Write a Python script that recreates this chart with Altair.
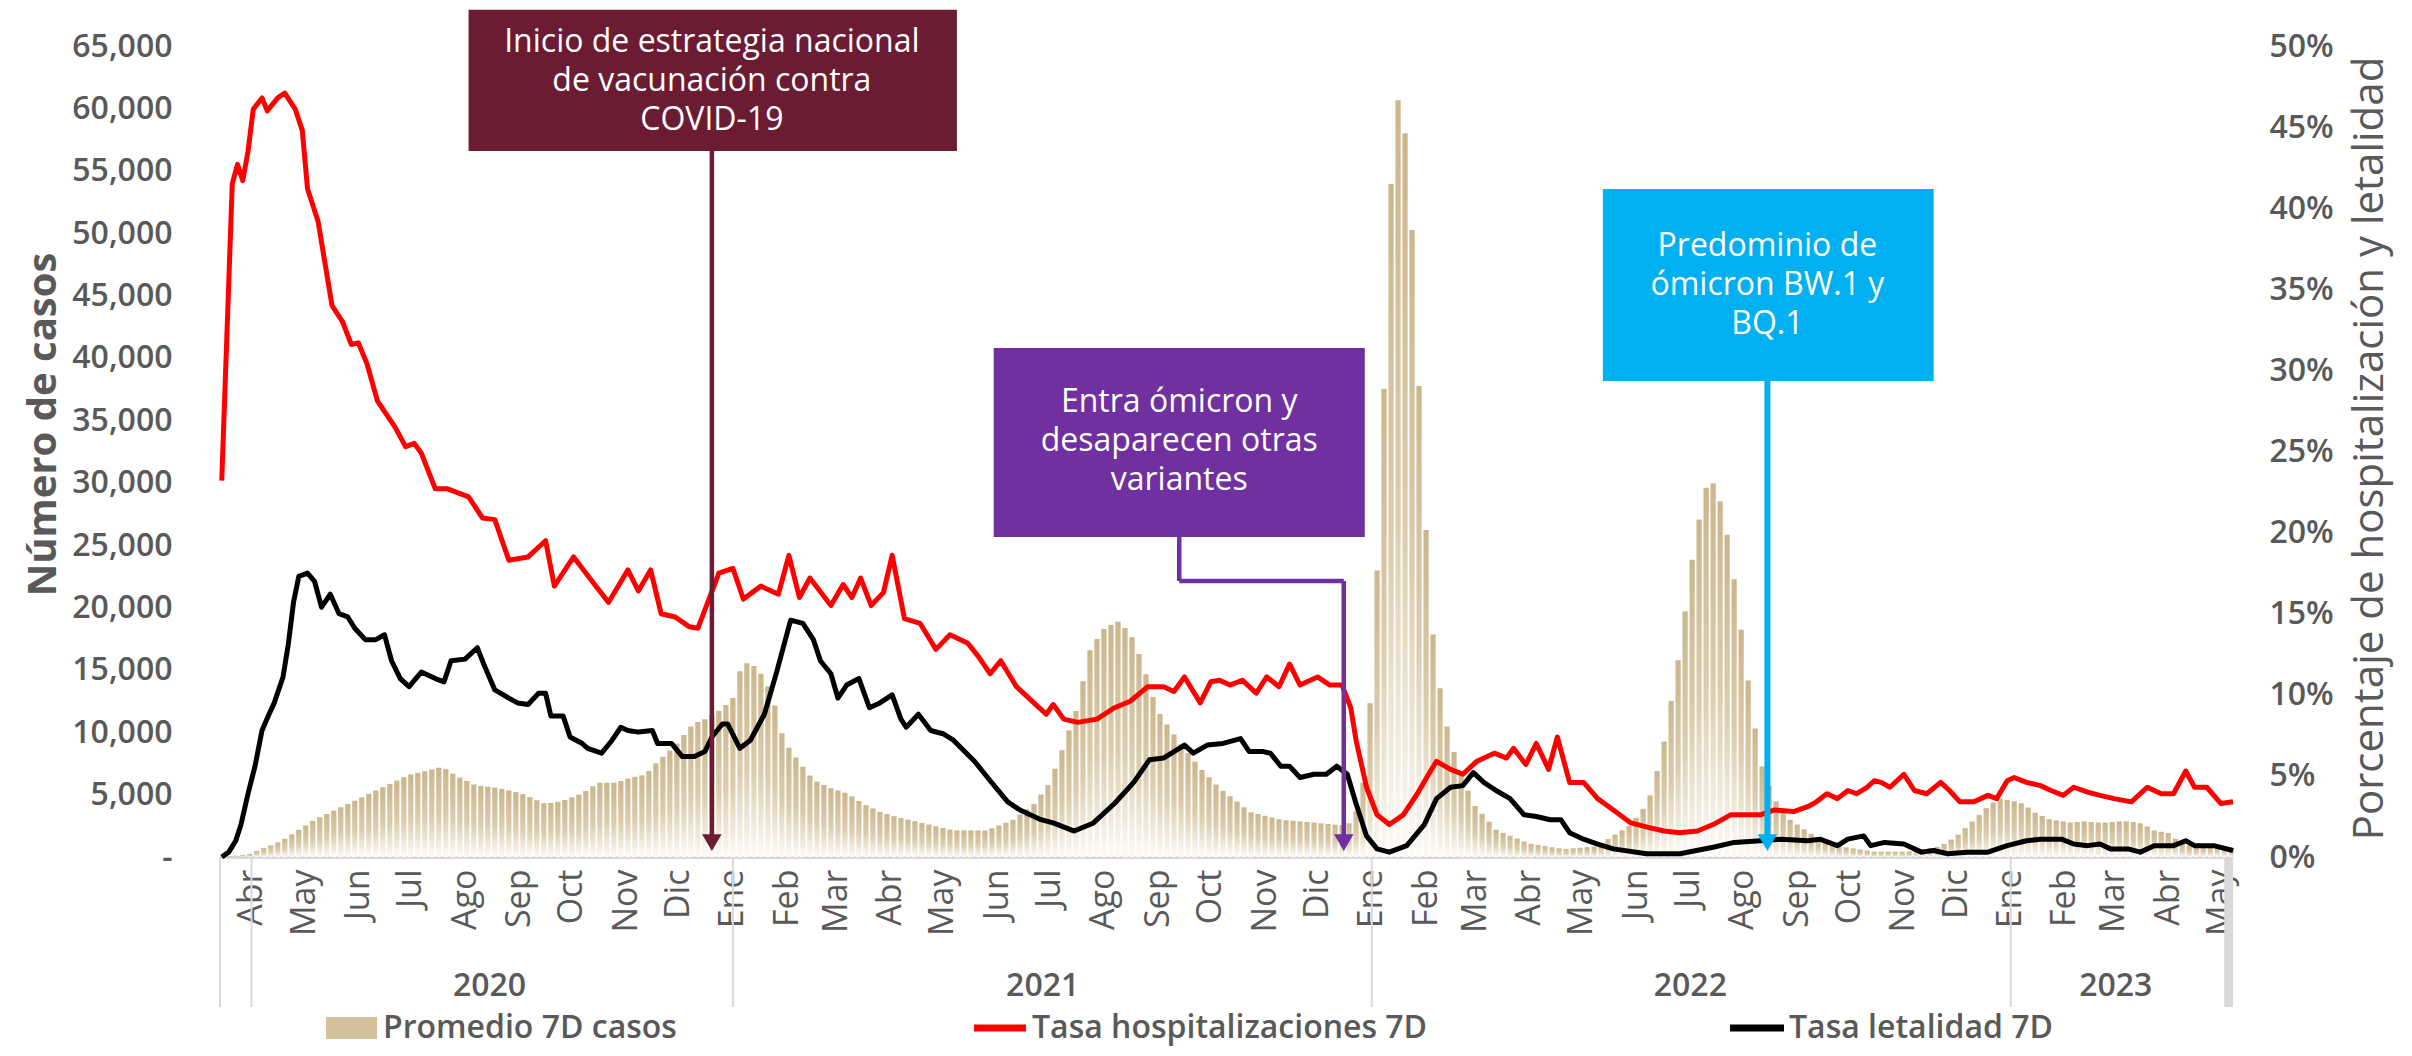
import altair as alt
import pandas as pd

# ---------------- data ----------------
INICIO = "2020-03-14"          # day 0 of the day offsets used below
FIN_DIA = 1150                 # 2023-05-08
MESES = ["Ene", "Feb", "Mar", "Abr", "May", "Jun", "Jul", "Ago", "Sep", "Oct", "Nov", "Dic"]

# 7-day average of cases read every 4 days (day offsets 1, 5, 9, ... from INICIO)
casos_dia = list(range(1, 1150, 4))
casos = [
    0, 50, 105, 160, 257, 484, 711, 938, 1166, 1459,
    1817, 2175, 2533, 2890, 3180, 3448, 3715, 3982, 4250, 4519,
    4788, 5058, 5328, 5596, 5861, 6126, 6391, 6620, 6740, 6870,
    7015, 7160, 7040, 6680, 6370, 6090, 5810, 5690, 5630, 5560,
    5460, 5330, 5200, 5040, 4800, 4550, 4310, 4330, 4420, 4575,
    4785, 4995, 5290, 5670, 5950, 5950, 5950, 6090, 6280, 6430,
    6540, 6890, 7500, 8030, 8540, 9100, 9780, 10460, 10820, 11050,
    11390, 11730, 12180, 12750, 14880, 15520, 15300, 14680, 13680, 12150,
    9920, 8760, 7970, 7240, 6530, 6040, 5770, 5510, 5330, 5150,
    4860, 4490, 4160, 3890, 3610, 3440, 3270, 3120, 2990, 2860,
    2730, 2600, 2460, 2330, 2200, 2130, 2130, 2130, 2130, 2130,
    2300, 2530, 2750, 2980, 3400, 3830, 4250, 5010, 5760, 7070,
    8560, 10150, 11700, 14080, 16580, 17480, 18280, 18590, 18850, 18360,
    17620, 16280, 14650, 12820, 11460, 10620, 9820, 9070, 8320, 7650,
    6970, 6390, 5810, 5300, 4870, 4440, 3980, 3580, 3440, 3300,
    3160, 3020, 2950, 2900, 2850, 2800, 2760, 2700, 2650, 2590,
    2560, 2700, 3660, 5950, 12330, 22960, 37510, 53930, 60650, 58000,
    50260, 37740, 26210, 17830, 13530, 10460, 8420, 6750, 5320, 4090,
    3460, 2830, 2190, 1930, 1700, 1480, 1250, 1050, 960, 870,
    780, 700, 650, 700, 740, 790, 830, 1080, 1430, 1790,
    2140, 2500, 3140, 3860, 4940, 6890, 9250, 12510, 15770, 19690,
    23830, 27050, 29590, 29940, 28490, 25830, 22260, 18220, 14140, 10300,
    7260, 5700, 4450, 3730, 2980, 2600, 2220, 1840, 1560, 1340,
    1120, 890, 780, 690, 600, 510, 425, 425, 425, 425,
    425, 450, 540, 630, 720, 810, 1040, 1400, 1780, 2310,
    2840, 3360, 3910, 4370, 4680, 4570, 4465, 4310, 3960, 3540,
    3290, 3030, 2930, 2850, 2760, 2800, 2850, 2800, 2760, 2760,
    2800, 2850, 2850, 2800, 2700, 2440, 2120, 2020, 1920, 1480,
    1020, 920, 850, 850, 850, 850, 850, 700,
]

# (day offset, %) readings
hospitalizacion = [
    (1, 23.2), (7, 41.5), (10, 42.7), (13, 41.7), (16, 43.5), (19, 46.1), (24, 46.8), (27, 46.0),
    (33, 46.8), (37, 47.1), (43, 46.1), (47, 44.8), (50, 41.2), (56, 39.2), (60, 36.6), (64, 34.0),
    (70, 33.0), (75, 31.6), (79, 31.7), (84, 30.4), (90, 28.1), (100, 26.5), (106, 25.3), (111, 25.5),
    (115, 24.9), (123, 22.7), (130, 22.7), (142, 22.2), (150, 20.9), (157, 20.8), (165, 18.3), (176, 18.5),
    (186, 19.5), (191, 16.7), (202, 18.5), (214, 16.8), (222, 15.7), (233, 17.7), (239, 16.4), (246, 17.7),
    (252, 15.0), (260, 14.8), (268, 14.2), (273, 14.1), (285, 17.5), (293, 17.8), (299, 15.9), (309, 16.7),
    (319, 16.2), (325, 18.6), (331, 16.0), (337, 17.2), (349, 15.5), (356, 16.8), (361, 16.0), (366, 17.2),
    (372, 15.5), (379, 16.3), (384, 18.6), (391, 14.7), (400, 14.4), (409, 12.8), (417, 13.7), (427, 13.2),
    (433, 12.4), (440, 11.3), (446, 12.1), (455, 10.5), (465, 9.5), (472, 8.8), (476, 9.4), (482, 8.5),
    (490, 8.3), (501, 8.5), (511, 9.2), (520, 9.6), (530, 10.5), (539, 10.5), (545, 10.2), (551, 11.1),
    (560, 9.5), (566, 10.8), (571, 10.9), (577, 10.6), (584, 10.9), (592, 10.1), (598, 11.1), (605, 10.5),
    (611, 11.9), (617, 10.6), (627, 11.1), (634, 10.6), (641, 10.6), (646, 9.2), (649, 7.2), (655, 4.3),
    (661, 2.6), (668, 2.0), (676, 2.6), (684, 3.9), (691, 5.2), (695, 5.9), (703, 5.4), (710, 5.1),
    (718, 5.9), (728, 6.4), (735, 6.1), (739, 6.7), (746, 5.7), (752, 7.0), (759, 5.4), (764, 7.4),
    (771, 4.6), (779, 4.6), (787, 3.6), (796, 2.9), (806, 2.1), (817, 1.8), (825, 1.6), (834, 1.5),
    (844, 1.6), (853, 2.0), (863, 2.6), (869, 2.6), (880, 2.6), (888, 2.9), (899, 2.8), (907, 3.1),
    (912, 3.4), (918, 3.9), (924, 3.6), (930, 4.1), (935, 3.9), (941, 4.3), (945, 4.7), (949, 4.6),
    (954, 4.3), (962, 5.1), (968, 4.1), (975, 3.9), (983, 4.6), (988, 4.1), (994, 3.4), (1002, 3.4),
    (1010, 3.8), (1015, 3.6), (1021, 4.7), (1025, 4.9), (1032, 4.6), (1040, 4.4), (1046, 4.1), (1053, 3.8),
    (1059, 4.3), (1067, 4.0), (1074, 3.8), (1082, 3.6), (1092, 3.4), (1101, 4.3), (1109, 3.9), (1116, 3.9),
    (1123, 5.3), (1128, 4.3), (1135, 4.3), (1143, 3.3), (1150, 3.4),
]

letalidad = [
    (1, 0.0), (5, 0.3), (9, 1.0), (12, 2.0), (16, 3.9), (20, 5.6), (24, 7.8), (28, 8.8),
    (31, 9.5), (36, 11.1), (39, 13.1), (42, 15.7), (45, 17.3), (50, 17.5), (54, 17.0), (58, 15.4),
    (63, 16.2), (68, 15.0), (73, 14.8), (77, 14.1), (83, 13.4), (89, 13.4), (94, 13.7), (98, 12.1),
    (103, 11.0), (108, 10.5), (115, 11.4), (123, 11.0), (128, 10.8), (132, 12.1), (140, 12.2), (147, 12.9),
    (151, 11.8), (157, 10.3), (165, 9.8), (170, 9.5), (176, 9.4), (182, 10.1), (186, 10.1), (189, 8.7),
    (196, 8.7), (200, 7.4), (207, 7.0), (210, 6.7), (218, 6.4), (224, 7.2), (229, 8.0), (233, 7.8),
    (239, 7.7), (247, 7.8), (250, 7.0), (258, 7.0), (264, 6.2), (271, 6.2), (277, 6.5), (281, 7.4),
    (287, 8.2), (290, 8.2), (297, 6.7), (303, 7.2), (311, 8.8), (318, 11.4), (326, 14.6), (333, 14.4),
    (339, 13.4), (343, 12.1), (349, 11.3), (353, 9.8), (358, 10.6), (365, 11.0), (371, 9.2), (377, 9.5),
    (384, 10.0), (389, 8.5), (392, 8.0), (399, 8.8), (406, 7.8), (413, 7.6), (419, 7.2), (431, 5.9),
    (440, 4.7), (450, 3.4), (457, 2.9), (469, 2.3), (476, 2.1), (488, 1.6), (499, 2.1), (511, 3.3),
    (522, 4.6), (531, 6.0), (539, 6.1), (551, 6.9), (556, 6.4), (564, 6.9), (573, 7.0), (583, 7.3),
    (588, 6.5), (596, 6.5), (600, 6.4), (606, 5.6), (611, 5.6), (617, 4.9), (625, 5.1), (632, 5.1),
    (638, 5.6), (644, 5.1), (649, 3.3), (655, 1.3), (661, 0.5), (668, 0.3), (678, 0.7), (688, 2.0),
    (695, 3.6), (703, 4.3), (710, 4.4), (716, 5.2), (722, 4.6), (729, 4.1), (737, 3.6), (745, 2.6),
    (752, 2.5), (760, 2.3), (766, 2.3), (771, 1.5), (779, 1.1), (787, 0.8), (796, 0.5), (815, 0.2),
    (834, 0.2), (853, 0.6), (865, 0.9), (880, 1.0), (892, 1.1), (907, 1.0), (914, 1.1), (924, 0.7),
    (930, 1.1), (939, 1.3), (943, 0.7), (951, 0.9), (962, 0.8), (972, 0.3), (979, 0.4), (987, 0.2),
    (998, 0.3), (1010, 0.3), (1021, 0.7), (1032, 1.0), (1040, 1.1), (1052, 1.1), (1059, 0.8), (1067, 0.7),
    (1074, 0.8), (1080, 0.5), (1090, 0.5), (1097, 0.3), (1105, 0.7), (1116, 0.7), (1123, 1.0), (1128, 0.7),
    (1139, 0.7), (1150, 0.4),
]

anios = ["2020", "2021", "2022", "2023"]
series = ["Promedio 7D casos", "Tasa hospitalizaciones 7D", "Tasa letalidad 7D"]
notas_texto = [
    ["Inicio de estrategia nacional", "de vacunación contra", "COVID-19"],
    ["Entra ómicron y", "desaparecen otras", "variantes"],
    ["Predominio de", "ómicron BW.1 y", "BQ.1"],
]

# ---------------- layout / style ----------------
W, H = 2013, 811
GRIS = "#595959"
LINEA = "#D9D9D9"
FONT = "Open Sans"
TAN = "#D4C19C"

anios_dia = [154, 470, 840, 1083]
cortes_dia = [0, 18, 293, 658, 1023]
gris_final = (1145, 1150)
notas_color = ["#6B1C33", "#7030A0", "#00B0F0"]
notas_caja = [(142, 421, 67900, 56590), (442, 654, 40800, 25650), (790, 979, 53540, 38150)]
notas_primera_linea = [(281, 65350), (548, 36450), (884, 49000)]   # anchor of first text line
flechas = [  # (day1, day2, y1, y2, colour index)
    (281, 281, 56590, 1400, 0),
    (548, 548, 25650, 22120, 1), (548, 642, 22120, 22120, 1), (642, 642, 22120, 1400, 1),
    (884, 884, 38150, 1400, 2),
]
puntas = [(281, 0), (642, 1), (884, 2)]
PUNTA_Y = 1150
MEDIA_BARRA = 1.5   # half width of each bar, in days


def fecha(d):
    return (pd.Timestamp(INICIO) + pd.Timedelta(days=d)).strftime("%Y-%m-%dT%H:%M:%SZ")


def ms(d):
    return int((pd.Timestamp(INICIO) + pd.Timedelta(days=d)).value // 10**6)


xscale = alt.Scale(type="utc", domain=[ms(0), ms(FIN_DIA)], nice=False)
yL = alt.Scale(domain=[0, 65000], nice=False, zero=True)
yR = alt.Scale(domain=[0, 50], nice=False, zero=True)

meses_ms = [int(t.value // 10**6) for t in pd.date_range("2020-04-01", "2023-05-01", freq="MS")]
meses_js = "[" + ",".join("'%s'" % m for m in MESES) + "]"

xaxis = alt.Axis(
    values=meses_ms, labelExpr=meses_js + "[utcmonth(datum.value)]",
    labelAngle=-90, labelAlign="right", labelBaseline="middle", labelPadding=12,
    labelFont=FONT, labelFontSize=34, labelFontWeight=500, labelColor=GRIS,
    labelOverlap=False, labelFlush=False, ticks=False, grid=False,
    domainColor=LINEA, domainWidth=3, title=None,
)
yLaxis = alt.Axis(
    values=list(range(0, 65001, 5000)),
    labelExpr="datum.value == 0 ? '-' : format(datum.value, ',')",
    labelFont=FONT, labelFontSize=32, labelFontWeight=600, labelColor=GRIS, labelPadding=48,
    ticks=False, domain=False, grid=False,
    title="Número de casos", titleFont=FONT, titleFontSize=40, titleFontWeight="bold",
    titleColor=GRIS, titleAngle=-90, titleX=-177, titleY=378, titleAlign="center", titleBaseline="middle",
)
yRaxis = alt.Axis(
    orient="right", values=list(range(0, 51, 5)), labelExpr="datum.value + '%'",
    labelFont=FONT, labelFontSize=32, labelFontWeight=600, labelColor=GRIS, labelPadding=36,
    ticks=False, domain=False, grid=False,
    title="Porcentaje de hospitalización y letalidad", titleFont=FONT, titleFontSize=42,
    titleFontWeight="normal", titleColor=GRIS, titleAngle=-90, titleX=136, titleY=402,
    titleAlign="center", titleBaseline="middle",
)

# ---------------- frames ----------------
df_casos = pd.DataFrame({
    "ini": [fecha(d - MEDIA_BARRA) for d in casos_dia],
    "fin": [fecha(d + MEDIA_BARRA) for d in casos_dia],
    "casos": casos,
})
df_h = pd.DataFrame({"fecha": [fecha(d) for d, _ in hospitalizacion], "pct": [v for _, v in hospitalizacion]})
df_l = pd.DataFrame({"fecha": [fecha(d) for d, _ in letalidad], "pct": [v for _, v in letalidad]})

gradiente = {
    "gradient": "linear", "x1": 0, "x2": 0, "y1": 0, "y2": 1,
    "stops": [
        {"offset": 0, "color": "#CBB68C"},
        {"offset": 0.55, "color": "#DCCDAE"},
        {"offset": 1, "color": "#FDFBF7"},
    ],
}

barras = alt.Chart(df_casos).mark_bar(color=gradiente).encode(
    x=alt.X("ini:T", scale=xscale, axis=xaxis, title=None),
    x2="fin:T",
    y=alt.Y("casos:Q", scale=yL, axis=yLaxis),
    y2=alt.datum(0),
)

rojo = alt.Chart(df_h).mark_line(color="#FF0000", strokeWidth=5, strokeJoin="round").encode(
    x=alt.X("fecha:T", scale=xscale, title=None),
    y=alt.Y("pct:Q", scale=yR, axis=yRaxis),
)
negro = alt.Chart(df_l).mark_line(color="#000000", strokeWidth=5, strokeJoin="round").encode(
    x=alt.X("fecha:T", scale=xscale, title=None),
    y=alt.Y("pct:Q", scale=yR, axis=None),
)

df_cortes = pd.DataFrame({"fecha": [fecha(d) for d in cortes_dia]})
cortes = alt.Chart(df_cortes).mark_rule(color=LINEA, strokeWidth=2).encode(
    x=alt.X("fecha:T", scale=xscale, title=None),
    y=alt.value(H), y2=alt.value(H + 150),
)
df_gris = pd.DataFrame({"ini": [fecha(gris_final[0])], "fin": [fecha(gris_final[1])]})
gris = alt.Chart(df_gris).mark_rect(color=LINEA).encode(
    x=alt.X("ini:T", scale=xscale, title=None), x2="fin:T",
    y=alt.value(H + 2), y2=alt.value(H + 150),
)

df_anios = pd.DataFrame({"fecha": [fecha(d) for d in anios_dia], "anio": anios})
anios_txt = alt.Chart(df_anios).mark_text(
    font=FONT, fontSize=32, fontWeight=600, color=GRIS, baseline="middle", align="center"
).encode(x=alt.X("fecha:T", scale=xscale, title=None), y=alt.value(H + 129), text="anio:N")

df_cajas = pd.DataFrame({
    "ini": [fecha(c[0]) for c in notas_caja], "fin": [fecha(c[1]) for c in notas_caja],
    "y1": [c[2] for c in notas_caja], "y2": [c[3] for c in notas_caja], "color": notas_color,
})
cajas = alt.Chart(df_cajas).mark_rect().encode(
    x=alt.X("ini:T", scale=xscale, title=None), x2="fin:T",
    y=alt.Y("y1:Q", scale=yL, axis=None), y2="y2:Q",
    color=alt.Color("color:N", scale=None),
)

df_flechas = pd.DataFrame({
    "x1": [fecha(f[0]) for f in flechas], "x2": [fecha(f[1]) for f in flechas],
    "y1": [f[2] for f in flechas], "y2": [f[3] for f in flechas],
    "color": [notas_color[f[4]] for f in flechas],
    "ancho": [6 if f[4] == 2 else 4.5 for f in flechas],
})
lineas_flecha = alt.Chart(df_flechas).mark_rule().encode(
    x=alt.X("x1:T", scale=xscale, title=None), x2="x2:T",
    y=alt.Y("y1:Q", scale=yL, axis=None), y2="y2:Q",
    color=alt.Color("color:N", scale=None),
    strokeWidth=alt.StrokeWidth("ancho:Q", scale=None),
)
df_puntas = pd.DataFrame({
    "fecha": [fecha(p[0]) for p in puntas], "y": [PUNTA_Y] * len(puntas),
    "color": [notas_color[p[1]] for p in puntas],
})
puntas_ch = alt.Chart(df_puntas).mark_point(shape="triangle-down", filled=True, size=380, opacity=1).encode(
    x=alt.X("fecha:T", scale=xscale, title=None),
    y=alt.Y("y:Q", scale=yL, axis=None),
    color=alt.Color("color:N", scale=None),
)

df_notas = pd.DataFrame({
    "fecha": [fecha(c[0]) for c in notas_primera_linea], "y": [c[1] for c in notas_primera_linea],
    "texto": notas_texto,
})
notas = alt.Chart(df_notas).mark_text(
    font=FONT, fontSize=32, color="white", align="center", baseline="middle", lineHeight=39
).encode(
    x=alt.X("fecha:T", scale=xscale, title=None),
    y=alt.Y("y:Q", scale=yL, axis=None),
    text="texto",
)

# legend (drawn by hand below the axis)
LEG_Y = 982
uno = pd.DataFrame({"k": [0]})
leg1 = alt.Chart(uno).mark_rect(color=TAN).encode(
    x=alt.value(106), x2=alt.value(157), y=alt.value(LEG_Y - 11), y2=alt.value(LEG_Y + 11))
leg2 = alt.Chart(uno).mark_rule(color="#FF0000", strokeWidth=7).encode(
    x=alt.value(754), x2=alt.value(806), y=alt.value(LEG_Y), y2=alt.value(LEG_Y))
leg3 = alt.Chart(uno).mark_rule(color="#000000", strokeWidth=7).encode(
    x=alt.value(1510), x2=alt.value(1564), y=alt.value(LEG_Y), y2=alt.value(LEG_Y))
leg_txt = [
    alt.Chart(uno).mark_text(font=FONT, fontSize=32, fontWeight=600, color=GRIS, align="left",
                             baseline="middle").encode(x=alt.value(px), y=alt.value(LEG_Y), text=alt.value(s))
    for px, s in zip([163, 812, 1569], series)
]

chart = alt.layer(
    barras, rojo, negro, cortes, gris, anios_txt, cajas, lineas_flecha, puntas_ch, notas,
    leg1, leg2, leg3, *leg_txt,
).resolve_scale(y="independent").properties(
    width=W, height=H,
    autosize=alt.AutoSizeParams(type="none"),
    padding={"left": 212, "top": 38, "right": 170, "bottom": 191},
    background="white",
).configure_view(stroke=None)

chart.save("out.html", embed_options={"renderer": "svg", "actions": False})
